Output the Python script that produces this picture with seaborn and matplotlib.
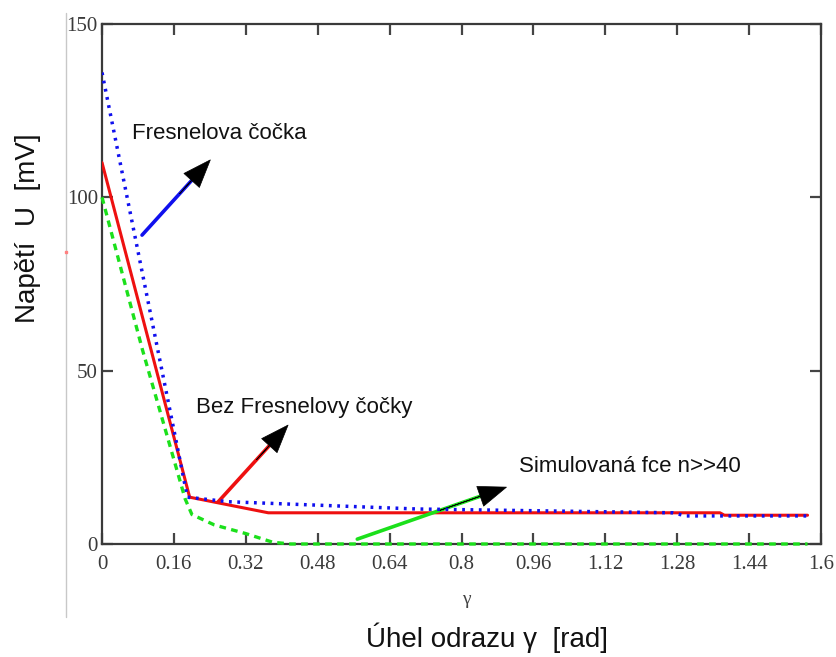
import matplotlib
matplotlib.use("Agg")
import matplotlib.pyplot as plt
import seaborn as sns
import pandas as pd
import numpy as np

# --- datos ---
gamma_fresnel = [0, 0.19, 0.28, 0.70, 1.27, 1.30, 1.57]
u_fresnel = [136, 13.5, 12.2, 10.1, 9.0, 8.1, 8.1]

gamma_bez = [0, 0.195, 0.37, 1.375, 1.385, 1.57]
u_bez = [110, 13.5, 9.0, 9.0, 8.3, 8.3]

gamma_sim = [0, 0.09, 0.185, 0.20, 0.25, 0.32, 0.38, 0.42, 1.57]
u_sim = [100, 56, 13, 8.5, 5.5, 3.0, 0.5, 0, 0]

x_ticks = [0, 0.16, 0.32, 0.48, 0.64, 0.8, 0.96, 1.12, 1.28, 1.44, 1.6]
x_tick_labels = ["0", "0.16", "0.32", "0.48", "0.64", "0.8", "0.96", "1.12", "1.28", "1.44", "1.6"]
y_ticks = [0, 50, 100, 150]

sns.set_style("ticks")
plt.rcParams['font.family'] = ['Liberation Sans', 'DejaVu Sans']

fig = plt.figure(figsize=(8.37, 6.57), dpi=100)
ax = fig.add_axes([0.1219, 0.172, 0.859, 0.7915])

df_f = pd.DataFrame({'gamma': gamma_fresnel, 'U': u_fresnel})
df_b = pd.DataFrame({'gamma': gamma_bez, 'U': u_bez})
df_s = pd.DataFrame({'gamma': gamma_sim, 'U': u_sim})

sns.lineplot(data=df_s, x='gamma', y='U', ax=ax, color='#1be01b', linewidth=2.4,
             linestyle=(0, (2.0, 1.6)), estimator=None, sort=False, clip_on=False, zorder=5)
sns.lineplot(data=df_f, x='gamma', y='U', ax=ax, color='#1010ee', linewidth=2.5,
             linestyle=(0, (0.8, 1.6)), estimator=None, sort=False, zorder=4)
sns.lineplot(data=df_b, x='gamma', y='U', ax=ax, color='#ee1010', linewidth=2.2,
             estimator=None, sort=False, zorder=3)

ax.set_xlim(0, 1.6)
ax.set_ylim(0, 150)
ax.set_xticks(x_ticks)
ax.set_xticklabels(x_tick_labels)
ax.set_yticks(y_ticks)
ax.set_xlabel('')
ax.set_ylabel('')

for lab in ax.get_xticklabels() + ax.get_yticklabels():
    lab.set_family('Liberation Serif')
    lab.set_fontsize(15)
    lab.set_color('#3a3a3a')

ax.tick_params(axis='both', direction='in', length=8, width=1.6, color='#444444',
               top=True, right=True)
ax.tick_params(axis='x', pad=8)
ax.tick_params(axis='y', pad=3)
for s in ax.spines.values():
    s.set_color('#3a3a3a')
    s.set_linewidth(1.6)

# anotaciones con flechas (cuerpo de color, punta negra)
arrows = [
    ('Fresnelova čočka', (0.089, 89.1), (0.241, 110.8), '#1010ee', (0.067, 118.5)),
    ('Bez Fresnelovy čočky', (0.258, 12.1), (0.414, 34.3), '#ee1010', (0.210, 39.5)),
    ('Simulovaná fce n>>40', (0.568, 1.4), (0.90, 16.4), '#1be01b', (0.929, 22.3)),
]
for txt, p0, p1, col, tpos in arrows:
    p0 = np.array(p0)
    p1 = np.array(p1)
    mid = p0 + (p1 - p0) * 0.55
    ax.annotate('', xy=p1, xytext=p0,
                arrowprops=dict(arrowstyle='-', color=col, lw=2.6, shrinkA=0, shrinkB=6))
    ax.annotate('', xy=p1, xytext=mid,
                arrowprops=dict(arrowstyle='simple,head_length=2.0,head_width=1.5,tail_width=0.01',
                                mutation_scale=10, fc='black', ec='black', lw=0.5,
                                shrinkA=0, shrinkB=0))
    ax.text(tpos[0], tpos[1], txt, fontsize=16, color='#111111', va='center', ha='left')

# etiquetas de los ejes
fig.text(28 / 837, 1 - 228 / 657, 'Napětí  U  [mV]', rotation=90, fontsize=20,
         ha='center', va='center', color='#111111')
fig.text(487 / 837, 1 - 638 / 657, 'Úhel odrazu γ  [rad]', fontsize=20,
         ha='center', va='center', color='#111111')
fig.text(466 / 837, 1 - 600 / 657, 'γ', fontsize=14, family='Liberation Serif',
         ha='center', va='center', color='#444444')

# linea gris vertical del marco original
fig.add_artist(plt.Line2D([66 / 837, 66 / 837], [1 - 13 / 657, 1 - 617 / 657],
                          color='#c8c8c8', lw=1.0))
fig.add_artist(plt.Line2D([66 / 837], [1 - 252 / 657], marker='s', markersize=1.5,
                          color='#ff8080', lw=0))

plt.savefig('out.png', dpi=100)
